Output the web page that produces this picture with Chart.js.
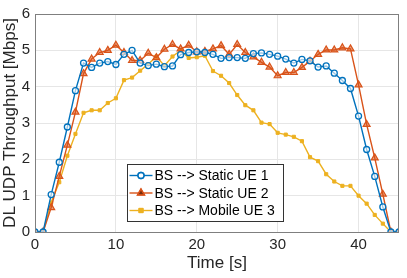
<!DOCTYPE html>
<html>
<head>
<meta charset="utf-8">
<script src="https://cdn.jsdelivr.net/npm/chart.js@4/dist/chart.umd.min.js"></script>
<style>
  html, body { margin: 0; padding: 0; background: #fff; }
  #wrap { width: 407px; height: 278px; }
</style>
</head>
<body>
<div id="wrap"><canvas id="chart" width="407" height="278"></canvas></div>
<script>
// UDP throughput per UE
const timeSec = Array.from({ length: 46 }, (_, i) => i);
const xTicks = [0, 10, 20, 30, 40];
const yTicks = [0, 1, 2, 3, 4, 5, 6];
const seriesNames = ['BS --> Static UE 1', 'BS --> Static UE 2', 'BS --> Mobile UE 3'];

const staticUe1 = [0, 0, 1.03, 1.92, 2.89, 3.89, 4.65, 4.53, 4.65, 4.69, 4.61, 4.89, 5.0, 4.65, 4.58, 4.62,
  4.55, 4.57, 4.88, 4.94, 4.96, 4.94, 4.89, 4.78, 4.8, 4.8, 4.78, 4.91, 4.93, 4.89, 4.84, 4.76, 4.65,
  4.75, 4.71, 4.54, 4.57, 4.37, 4.17, 3.95, 3.19, 2.27, 1.53, 0.69, 0, 0];
const staticUe2 = [0, 0, 0.67, 1.53, 2.39, 3.3, 4.36, 4.76, 4.94, 5.0, 5.14, 4.94, 4.72, 4.72, 4.92, 4.8,
  5.03, 5.16, 5.04, 5.14, 4.96, 4.97, 5.04, 5.13, 4.89, 5.16, 4.94, 4.82, 4.67, 4.54, 4.3, 4.39, 4.39,
  4.53, 4.7, 4.89, 5.01, 5.01, 5.07, 5.04, 4.05, 2.96, 2.04, 1.04, 0, 0];
const mobileUe3 = [0, 0, 0.81, 1.37, 2.1, 2.7, 3.28, 3.35, 3.35, 3.55, 3.68, 4.18, 4.25, 4.44, 4.62, 4.83,
  4.58, 4.83, 5.0, 4.79, 4.81, 4.85, 4.43, 4.3, 4.1, 3.77, 3.49, 3.35, 3.01, 2.97, 2.73, 2.68, 2.62,
  2.5, 2.06, 1.95, 1.59, 1.39, 1.27, 1.27, 1.0, 0.78, 0.47, 0.23, 0, 0];

const FONT = '"Liberation Sans", Arial, Helvetica, sans-serif';
const toPoints = ys => ys.map((y, i) => ({ x: timeSec[i], y }));

// box around the axes + legend drawn inside the plot
const boxLegend = {
  id: 'boxLegend',
  afterDatasetsDraw(chart) {
    const { ctx, chartArea: a } = chart;
    ctx.save();
    ctx.strokeStyle = '#7f7f7f';
    ctx.lineWidth = 1;
    ctx.strokeRect(a.left + 0.5, a.top + 0.5, a.right - a.left - 1, a.bottom - a.top);

    const lx = 127.5, ly = 164.5, lw = 156, lh = 57;
    ctx.fillStyle = '#fff';
    ctx.fillRect(lx, ly, lw, lh);
    ctx.strokeStyle = '#333';
    ctx.strokeRect(lx, ly, lw, lh);
    ctx.font = '14px ' + FONT;
    ctx.textBaseline = 'middle';
    chart.data.datasets.forEach((ds, i) => {
      const y = ly + 11 + i * 17.5;
      ctx.strokeStyle = ds.borderColor;
      ctx.lineWidth = ds.borderWidth;
      ctx.beginPath();
      ctx.moveTo(lx + 2, y);
      ctx.lineTo(lx + 25, y);
      ctx.stroke();
      Chart.helpers.drawPoint(ctx, {
        pointStyle: ds.pointStyle, radius: ds.pointRadius, rotation: 0,
        borderWidth: ds.pointBorderWidth
      }, lx + 13.5, y);
      ctx.fillStyle = ds.pointBackgroundColor;
      ctx.strokeStyle = ds.pointBorderColor;
      ctx.lineWidth = ds.pointBorderWidth;
      ctx.beginPath();
      drawMarker(ctx, ds.pointStyle, ds.pointRadius, lx + 13.5, y);
      ctx.fill();
      ctx.stroke();
      ctx.fillStyle = '#000';
      ctx.fillText(ds.label, lx + 27, y + 1);
    });
    ctx.restore();
  }
};

function drawMarker(ctx, style, r, x, y) {
  if (style === 'circle') ctx.arc(x, y, r, 0, Math.PI * 2);
  else if (style === 'rect') ctx.rect(x - r, y - r, 2 * r, 2 * r);
  else {
    ctx.moveTo(x, y - r);
    ctx.lineTo(x + r * 0.87, y + r * 0.5);
    ctx.lineTo(x - r * 0.87, y + r * 0.5);
    ctx.closePath();
  }
}

new Chart(document.getElementById('chart'), {
  type: 'line',
  data: {
    datasets: [
      {
        label: seriesNames[0], data: toPoints(staticUe1),
        borderColor: '#0072BD', borderWidth: 1.4,
        pointStyle: 'circle', pointRadius: 3, pointBorderWidth: 1.3,
        pointBorderColor: '#0072BD', pointBackgroundColor: 'rgba(255,255,255,0.6)'
      },
      {
        label: seriesNames[1], data: toPoints(staticUe2),
        borderColor: '#D95319', borderWidth: 1.4,
        pointStyle: 'triangle', pointRadius: 4, pointBorderWidth: 1.2,
        pointBorderColor: '#D95319', pointBackgroundColor: 'rgba(217,83,25,0.55)'
      },
      {
        label: seriesNames[2], data: toPoints(mobileUe3),
        borderColor: '#EDB120', borderWidth: 1.4,
        pointStyle: 'rect', pointRadius: 2.2, pointBorderWidth: 1,
        pointBorderColor: '#EDB120', pointBackgroundColor: '#EDB120'
      }
    ]
  },
  options: {
    responsive: false,
    animation: false,
    layout: { padding: { top: 7, right: 8, left: 0, bottom: 0 } },
    plugins: { legend: { display: false }, tooltip: { enabled: false } },
    elements: { line: { tension: 0 } },
    scales: {
      x: {
        type: 'linear', min: 0, max: 45,
        afterBuildTicks: s => { s.ticks = xTicks.map(v => ({ value: v })); },
        afterFit: s => { s.height = 46; },
        grid: { color: '#e6e6e6', drawTicks: false },
        border: { display: false },
        ticks: { color: '#262626', padding: 4, font: { family: FONT, size: 15 }, maxRotation: 0 },
        title: { display: true, text: 'Time [s]', color: '#262626', padding: { top: 0 },
          font: { family: FONT, size: 17 } }
      },
      y: {
        min: 0, max: 6,
        afterBuildTicks: s => { s.ticks = yTicks.map(v => ({ value: v })); },
        afterFit: s => { s.width = 35; },
        grid: { color: '#e6e6e6', drawTicks: false },
        border: { display: false },
        ticks: { color: '#262626', padding: 5, font: { family: FONT, size: 15 } },
        title: { display: true, text: 'DL UDP Throughput [Mbps]', color: '#262626', padding: 0,
          font: { family: FONT, size: 17 } }
      }
    }
  },
  plugins: [boxLegend]
});
</script>
</body>
</html>
